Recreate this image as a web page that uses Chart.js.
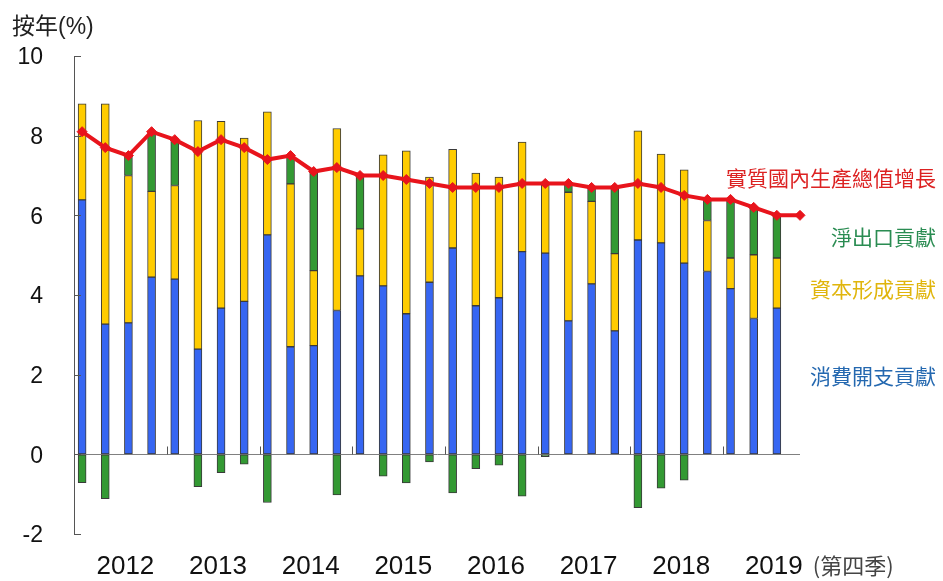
<!DOCTYPE html>
<html>
<head>
<meta charset="utf-8">
<script src="https://cdn.jsdelivr.net/npm/chart.js@4"></script>
<style>
  html, body { margin: 0; padding: 0; background: #fff; }
  #wrap { width: 943px; height: 581px; }
</style>
</head>
<body>
<div id="wrap"><canvas id="gdpChart" width="943" height="581"></canvas></div>
<script>
// quarterly data, 2012 Q1 .. 2019 Q4 (contributions in percentage points)
const years = ['2012', '2013', '2014', '2015', '2016', '2017', '2018', '2019'];
const quarters = years.flatMap(y => ['Q1', 'Q2', 'Q3', 'Q4'].map(q => y + q));

const consumption = [6.39, 3.27, 3.30, 4.45, 4.40, 2.64, 3.67, 3.84,
                     5.51, 2.70, 2.73, 3.61, 4.48, 4.23, 3.53, 4.32,
                     5.18, 3.73, 3.93, 5.09, 5.05, 3.35, 4.28, 3.10,
                     5.38, 5.31, 4.80, 4.59, 4.16, 3.41, 3.67];
const capital = [2.41, 5.53, 3.70, 2.15, 2.35, 5.74, 4.69, 4.10,
                 3.09, 4.09, 1.88, 4.57, 1.18, 3.29, 4.09, 2.64,
                 2.48, 3.33, 3.03, 2.75, 1.72, 3.23, 2.07, 1.94,
                 2.74, 2.23, 2.34, 1.28, 0.77, 1.60, 1.26];
const netExports = [-0.71, -1.11, 0.50, 1.47, 1.11, -0.81, -0.46, -0.25,
                    -1.21, 0.69, 2.49, -1.02, 1.32, -0.55, -0.72, -0.19,
                    -0.97, -0.36, -0.27, -1.05, -0.06, 0.19, 0.32, 1.63,
                    -1.34, -0.85, -0.65, 0.51, 1.42, 1.18, 1.05];
const gdpGrowth = [8.1, 7.7, 7.5, 8.1, 7.9, 7.6, 7.9, 7.7,
                   7.4, 7.5, 7.1, 7.2, 7.0, 7.0, 6.9, 6.8,
                   6.7, 6.7, 6.7, 6.8, 6.8, 6.8, 6.7, 6.7,
                   6.8, 6.7, 6.5, 6.4, 6.4, 6.2, 6.0, 6.0];
const yTicks = [10, 8, 6, 4, 2, 0, -2];

// year label / separator positions on the quarter index axis
const yearPos = years.map((y, k) => 4 * k + 1.87);
const yearSeps = years.slice(1).map((y, k) => 4 * k + 3.67);

const notes = [
  { text: '實質國內生產總值增長', color: '#dc2222', at: 6.93 },
  { text: '淨出口貢獻', color: '#2a8c52', at: 5.45 },
  { text: '資本形成貢獻', color: '#e0b50c', at: 4.15 },
  { text: '消費開支貢獻', color: '#2468b0', at: 1.96 }
];

const toPoints = arr => arr.map((v, i) => ({ x: i, y: v }));

Chart.defaults.font.family = "'Liberation Sans', Arial, 'Noto Sans CJK TC', sans-serif";
Chart.defaults.color = '#111';

const decorations = {
  id: 'decorations',
  afterDraw(chart) {
    const { ctx, chartArea, scales: { x, y } } = chart;
    ctx.save();
    // inward y ticks
    ctx.strokeStyle = '#555';
    ctx.lineWidth = 1;
    ctx.beginPath();
    yTicks.forEach(v => {
      const py = Math.round(y.getPixelForValue(v)) + 0.5;
      ctx.moveTo(chartArea.left, py);
      ctx.lineTo(chartArea.left + 7, py);
    });
    // year separators on the zero line
    const y0 = Math.round(y.getPixelForValue(0)) + 0.5;
    yearSeps.forEach(v => {
      const px = Math.round(x.getPixelForValue(v)) + 0.5;
      ctx.moveTo(px, y0);
      ctx.lineTo(px, y0 - 8);
    });
    ctx.stroke();

    // axis title
    ctx.fillStyle = '#222';
    ctx.font = "23px 'Liberation Sans', 'Noto Sans CJK TC', sans-serif";
    ctx.textAlign = 'left';
    ctx.textBaseline = 'middle';
    ctx.fillText('按年(%)', 12, 28);

    // "(第四季)" after the last year label
    ctx.font = "26px 'Liberation Sans', sans-serif";
    const w = ctx.measureText(years[years.length - 1]).width;
    const lx = x.getPixelForValue(yearPos[yearPos.length - 1]) + w / 2 + 10;
    ctx.font = "22px 'Noto Sans CJK TC', sans-serif";
    ctx.fillStyle = '#444';
    ctx.fillText('(第四季)', lx, chartArea.bottom + 32);

    // series notes on the right
    ctx.font = "21px 'Noto Sans CJK TC', sans-serif";
    ctx.textAlign = 'right';
    notes.forEach(n => {
      ctx.fillStyle = n.color;
      ctx.fillText(n.text, chart.width - 7, y.getPixelForValue(n.at));
    });
    ctx.restore();
  }
};

const barStyle = {
  type: 'bar',
  barThickness: 8,
  borderWidth: 1,
  borderColor: '#3a3a3a',
  borderSkipped: false,
  stack: 'parts',
  order: 1
};

new Chart(document.getElementById('gdpChart'), {
  type: 'bar',
  data: {
    datasets: [
      { ...barStyle, label: '消費開支貢獻', data: toPoints(consumption), backgroundColor: '#3666f2' },
      { ...barStyle, label: '資本形成貢獻', data: toPoints(capital), backgroundColor: '#ffcc00' },
      { ...barStyle, label: '淨出口貢獻', data: toPoints(netExports), backgroundColor: '#339933' },
      {
        type: 'line',
        label: '實質國內生產總值增長',
        data: toPoints(gdpGrowth),
        stack: 'gdp',
        order: 0,
        borderColor: '#e8141c',
        borderWidth: 4,
        pointStyle: 'rectRot',
        pointRadius: 5,
        pointBackgroundColor: '#e8141c',
        pointBorderColor: '#e8141c',
        pointBorderWidth: 1,
        tension: 0,
        clip: false
      }
    ]
  },
  options: {
    responsive: false,
    animation: false,
    layout: { padding: { top: 56, right: 143, left: 0, bottom: 0 } },
    plugins: { legend: { display: false }, tooltip: { enabled: false } },
    scales: {
      x: {
        type: 'linear',
        min: -0.35,
        max: 31,
        offset: false,
        stacked: true,
        grid: { display: false, offset: false },
        border: { display: false },
        afterBuildTicks: scale => { scale.ticks = yearPos.map(v => ({ value: v })); },
        afterFit: scale => { scale.height = 47; },
        ticks: {
          autoSkip: false,
          maxRotation: 0,
          padding: 9,
          font: { size: 26 },
          color: '#111',
          callback: (v, i) => years[i]
        }
      },
      y: {
        min: -2,
        max: 10,
        stacked: true,
        afterFit: scale => { scale.width = 74; },
        border: { display: true, color: '#555', width: 1 },
        grid: {
          drawTicks: false,
          color: c => (c.tick && c.tick.value === 0 ? '#808080' : 'rgba(0,0,0,0)'),
          lineWidth: 1
        },
        ticks: {
          stepSize: 2,
          padding: 31,
          labelOffset: 2,
          font: { size: 23 },
          color: '#111'
        }
      }
    }
  },
  plugins: [decorations]
});
</script>
</body>
</html>
